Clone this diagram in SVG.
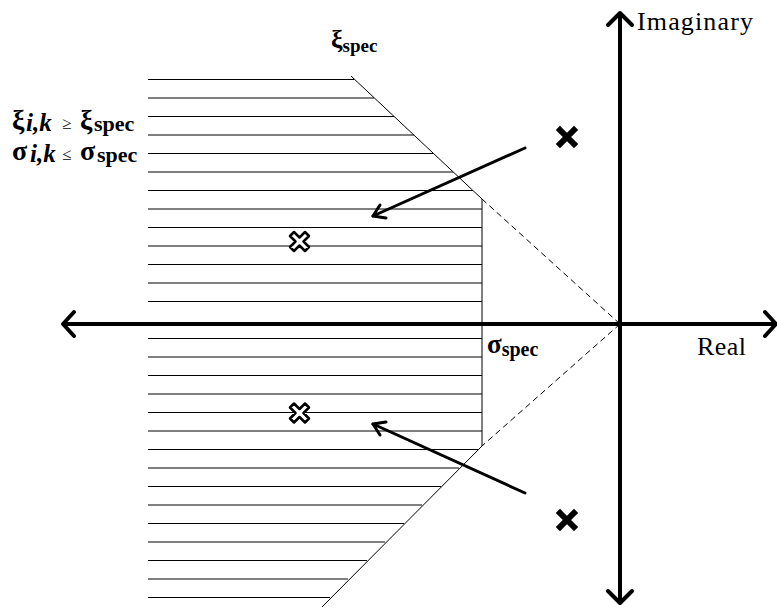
<svg xmlns="http://www.w3.org/2000/svg" width="777" height="610" viewBox="0 0 777 610">
<style>
.h{stroke:#000;stroke-width:1}
.ax{stroke:#000;stroke-width:4;fill:none}
.ah{stroke:#000;stroke-width:4;fill:none;stroke-linecap:round;stroke-linejoin:round}
.ar{stroke:#000;stroke-width:3;fill:none;stroke-linecap:round;stroke-linejoin:round}
.t{font-family:"Liberation Serif",serif;fill:#000}
.b{font-weight:bold}
.ox{fill:#fff;stroke:#000;stroke-width:2.5;stroke-linejoin:round}
.sx{stroke:#000;stroke-width:6;stroke-linecap:square;fill:none}
</style>
<rect width="777" height="610" fill="#fff"/>
<g id="hatch">
<line class="h" x1="148" y1="79.5" x2="354" y2="79.5"/>
<line class="h" x1="148" y1="98" x2="374" y2="98"/>
<line class="h" x1="148" y1="116.5" x2="394" y2="116.5"/>
<line class="h" x1="148" y1="135" x2="414" y2="135"/>
<line class="h" x1="148" y1="153.5" x2="433" y2="153.5"/>
<line class="h" x1="148" y1="172" x2="453" y2="172"/>
<line class="h" x1="148" y1="190.5" x2="473" y2="190.5"/>
<line class="h" x1="148" y1="209" x2="482" y2="209"/>
<line class="h" x1="148" y1="227.5" x2="482" y2="227.5"/>
<line class="h" x1="148" y1="246" x2="482" y2="246"/>
<line class="h" x1="148" y1="264.5" x2="482" y2="264.5"/>
<line class="h" x1="148" y1="283" x2="482" y2="283"/>
<line class="h" x1="148" y1="301.5" x2="482" y2="301.5"/>
<line class="h" x1="148" y1="338.5" x2="482" y2="338.5"/>
<line class="h" x1="148" y1="357" x2="482" y2="357"/>
<line class="h" x1="148" y1="375.5" x2="482" y2="375.5"/>
<line class="h" x1="148" y1="394" x2="482" y2="394"/>
<line class="h" x1="148" y1="412.5" x2="482" y2="412.5"/>
<line class="h" x1="148" y1="431" x2="482" y2="431"/>
<line class="h" x1="148" y1="449.5" x2="478" y2="449.5"/>
<line class="h" x1="148" y1="468" x2="459" y2="468"/>
<line class="h" x1="148" y1="486.5" x2="441" y2="486.5"/>
<line class="h" x1="148" y1="505" x2="422" y2="505"/>
<line class="h" x1="148" y1="523.5" x2="404" y2="523.5"/>
<line class="h" x1="148" y1="542" x2="385" y2="542"/>
<line class="h" x1="148" y1="560.5" x2="367" y2="560.5"/>
<line class="h" x1="148" y1="579" x2="348" y2="579"/>
<line class="h" x1="148" y1="597.5" x2="330" y2="597.5"/>
</g>
<g id="bounds">
<line x1="351" y1="76" x2="482" y2="199" stroke="#000" stroke-width="1"/>
<line x1="482" y1="199" x2="620" y2="324" stroke="#000" stroke-width="1" stroke-dasharray="6,4"/>
<line x1="482" y1="199" x2="482" y2="446" stroke="#000" stroke-width="1"/>
<line x1="620" y1="324" x2="482" y2="446" stroke="#000" stroke-width="1" stroke-dasharray="6,4"/>
<line x1="482" y1="446" x2="322" y2="607" stroke="#000" stroke-width="1"/>
</g>
<g id="axes">
<line class="ax" x1="62" y1="324" x2="777" y2="324"/>
<polyline class="ah" points="74,312 63,324 74,336"/>
<polyline class="ah" points="765,312 776,324 765,336"/>
<line class="ax" x1="620" y1="12" x2="620" y2="604"/>
<polyline class="ah" points="608,25 620,13 632,25"/>
<polyline class="ah" points="608,591 620,603 632,591"/>
</g>
<g id="poles">
<g id="pole1"><path class="sx" d="M560,130 L574,144 M574,130 L560,144"/></g>
<g id="pole2"><path class="sx" d="M560,513 L574,527 M574,513 L560,527"/></g>
<g id="pole3"><path class="ox" transform="translate(299.5,241.5)" d="M-9.5,-5.5 L-5.5,-9.5 L0,-4 L5.5,-9.5 L9.5,-5.5 L4,0 L9.5,5.5 L5.5,9.5 L0,4 L-5.5,9.5 L-9.5,5.5 L-4,0 Z"/></g>
<g id="pole4"><path class="ox" transform="translate(299.5,413)" d="M-9.5,-5.5 L-5.5,-9.5 L0,-4 L5.5,-9.5 L9.5,-5.5 L4,0 L9.5,5.5 L5.5,9.5 L0,4 L-5.5,9.5 L-9.5,5.5 L-4,0 Z"/></g>
</g>
<g id="connectors">
<line class="ar" x1="525" y1="148" x2="373" y2="216"/>
<polyline class="ar" points="380,205 373,216 386,218"/>
<line class="ar" x1="525" y1="493" x2="373" y2="424"/>
<polyline class="ar" points="386,422 373,424 380,435"/>
</g>
<g id="labels">
<text class="t b" x="331" y="48" font-size="26">ξ<tspan font-size="19" y="52">spec</tspan></text>
<text class="t b" font-size="28"><tspan x="12" y="129">ξ</tspan><tspan x="26" y="131" font-style="italic" font-size="25">i,k</tspan><tspan x="62" y="129" font-size="17" font-weight="normal">≥</tspan><tspan x="80" y="129">ξ</tspan><tspan x="94" y="131" font-size="22">spec</tspan></text>
<text class="t b" font-size="28"><tspan x="12" y="160">σ</tspan><tspan x="30" y="162" font-style="italic" font-size="25">i,k</tspan><tspan x="62" y="160" font-size="17" font-weight="normal">≤</tspan><tspan x="80" y="160">σ</tspan><tspan x="97" y="162" font-size="22">spec</tspan></text>
<text class="t b" x="487" y="353" font-size="27">σ<tspan font-size="20" y="356">spec</tspan></text>
<text class="t" x="637" y="30" font-size="26" textLength="116">Imaginary</text>
<text class="t" x="697" y="355" font-size="26" textLength="49">Real</text>
</g>
</svg>
